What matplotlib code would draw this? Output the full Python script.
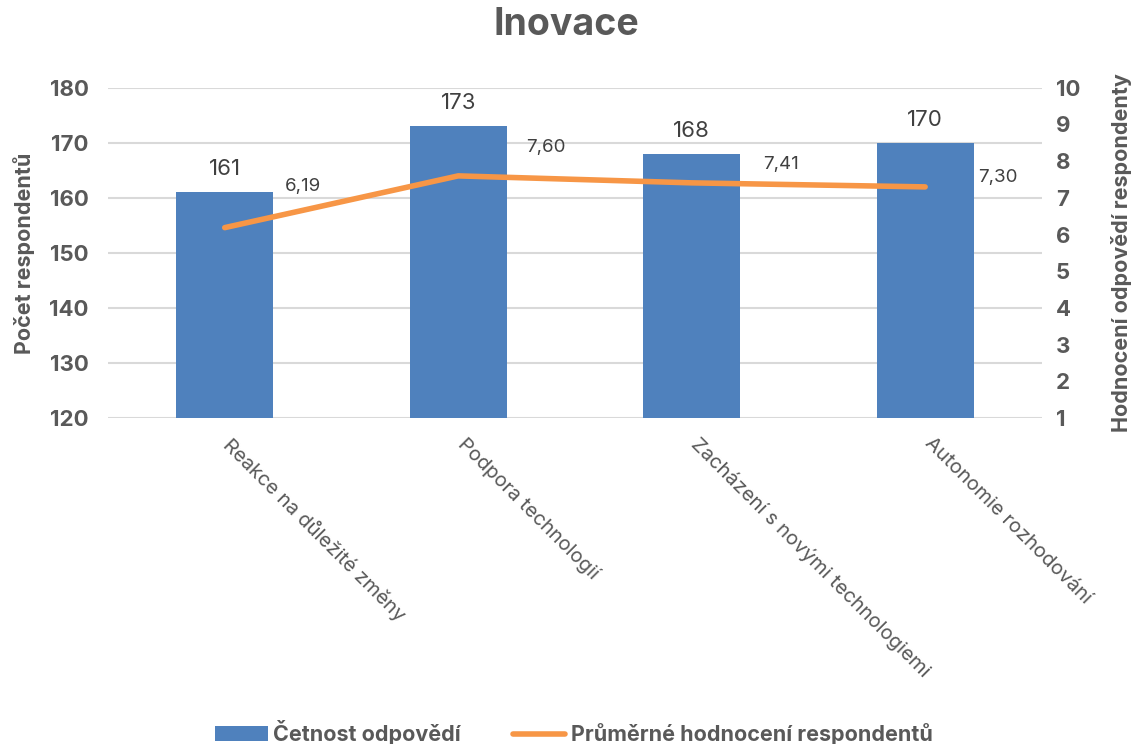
import numpy as np
import matplotlib.pyplot as plt

plt.rcParams['font.family'] = ['Inter', 'DejaVu Sans']

categories = ["Reakce na důležité změny", "Podpora technologií",
              "Zacházení s novými technologiemi", "Autonomie rozhodování"]
counts = [161, 173, 168, 170]
ratings = [6.19, 7.60, 7.41, 7.30]
rating_labels = ["6,19", "7,60", "7,41", "7,30"]

blue = "#4F81BD"
orange = "#F79646"
grey = "#595959"

fig = plt.figure(figsize=(11.32, 7.44), dpi=100)
ax = fig.add_axes([0.0954, 0.438, 0.825, 0.444])
ax2 = ax.twinx()

x = np.arange(len(categories))
bars = ax.bar(x, counts, width=0.415, color=blue, zorder=2, label="Četnost odpovědí")
ax.set_ylim(120, 180)
ax.set_xlim(-0.5, 3.5)
ax.set_yticks(range(120, 181, 10))
ax.grid(axis='y', color='#D9D9D9', linewidth=1.5, zorder=0)
ax.set_axisbelow(True)
for c, v in zip(x, counts):
    ax.annotate(str(v), (c, v), xytext=(0, 13), textcoords='offset pixels',
                ha='center', va='bottom', fontsize=16, color='#404040')

line, = ax2.plot(x, ratings, color=orange, linewidth=4, solid_capstyle='round',
                 label="Průměrné hodnocení respondentů", zorder=3)
ax2.set_ylim(1, 10)
ax2.set_yticks(range(1, 11))
# label offsets in pixels
offsets = [(78, 41), (88, 28), (89, 18), (73, 9)]
for c, v, t, off in zip(x, ratings, rating_labels, offsets):
    ax2.annotate(t, (c, v), xytext=off, textcoords='offset pixels',
                 ha='center', va='center', fontsize=13.5, color='#404040')

for a in (ax, ax2):
    for s in a.spines.values():
        s.set_visible(False)
    a.tick_params(length=0, labelsize=16, labelcolor=grey)
    for lab in a.get_yticklabels():
        lab.set_fontweight('bold')

# category labels drawn by hand so they can sit a bit right of the tick
ax.set_xticks(x)
ax.set_xticklabels([])
for c, name in zip(x, categories):
    ax.annotate(name, (c, 0), xycoords=ax.get_xaxis_transform(), xytext=(9, -16),
                textcoords='offset pixels', rotation=-45, rotation_mode='anchor',
                ha='left', va='top', fontsize=14.5, color=grey)
ax.tick_params(axis='y', pad=14)
ax2.tick_params(axis='y', pad=10)

ax.set_ylabel("Počet respondentů", fontsize=15.5, fontweight='bold', color=grey, labelpad=10)
ax2.set_ylabel("Hodnocení odpovědí respondenty", fontsize=15.5, fontweight='bold',
               color=grey, labelpad=22)

fig.suptitle("Inovace", fontsize=27, fontweight='bold', color=grey, y=0.99)

fig.legend(handles=[bars, line], loc='lower center', bbox_to_anchor=(0.507, -0.028),
           ncol=2, frameon=False, prop={'weight': 'bold', 'size': 15.5},
           handlelength=2.45, columnspacing=2.4, labelcolor=grey, handletextpad=0.25)

fig.savefig("out.png", dpi=100)
